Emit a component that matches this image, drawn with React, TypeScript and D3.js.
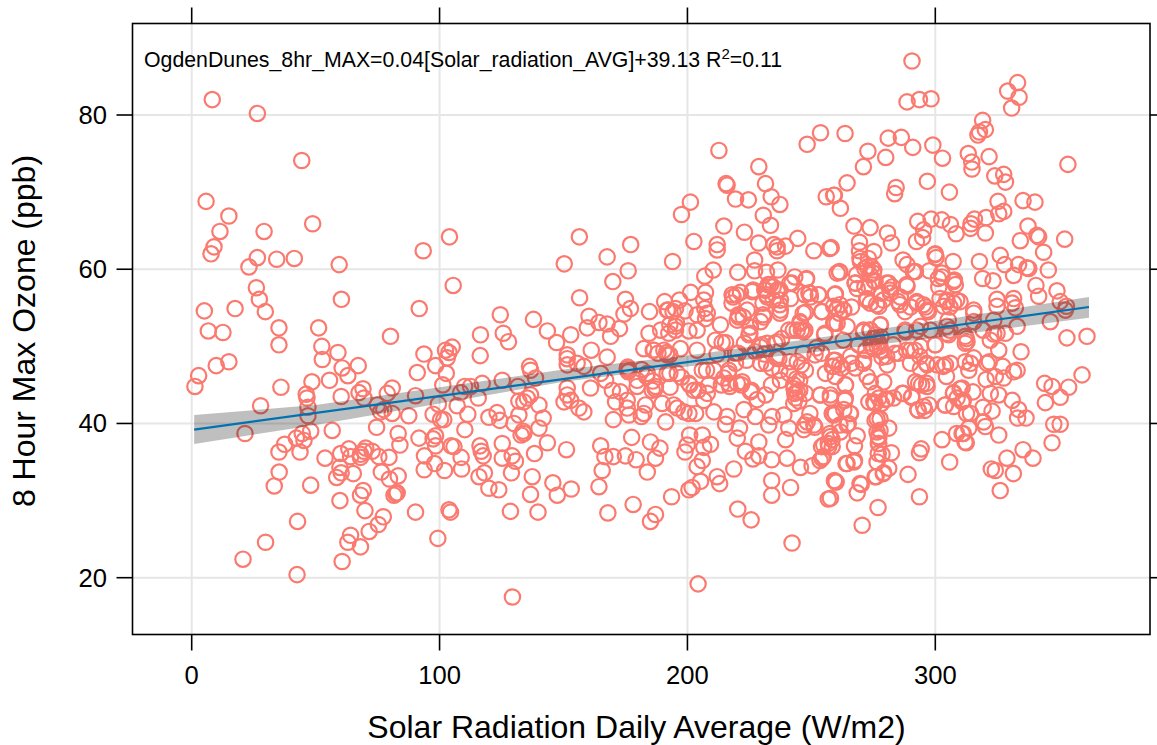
import React from "react";
import * as d3 from "d3";

// [solar radiation W/m2, 8hr max ozone ppb], grouped by radiation band
const band0to70: [number, number][] = [
[8.3,82],[26.5,80.2],[44.4,74.1],[5.8,68.8],[15,66.9],[11.4,64.9],[29.2,64.9],[48.8,65.9],[9,62.9],[7.8,62],[26.5,61.5],[23.1,60.3],[34.3,61.3],[41.4,61.4],[59.5,60.6],[60.4,56.1],[26.1,57.6],[27.3,56.1],[29.7,54.5],[17.5,54.9],[5.1,54.6],[35.2,52.4],[51.2,52.4],[6.7,52],[12.6,51.8],[35.2,50.2],[52.5,50],[59,49.2],[52.7,48.3],[67.2,47.5],[60.7,47.2],[63,46.2],[15,48],[9.9,47.5],[2.8,46.2],[1.3,44.8],[36,44.7],[48.5,45.4],[55.6,45.6],[69.1,44.5],[46.2,43.8],[46.5,43.3],[60.3,43.5],[67.5,44],[27.8,42.3],[46.9,42.1],[46.9,41],[69.5,43.3],[21.5,38.7],[56.7,39.1],[48,39],[44.6,38.7],[42.2,38.1],[45.3,37.8],[37.5,37.3],[35.2,36.3],[43.7,36.3],[53.8,35.5],[60.1,36.1],[63.4,36.7],[64.1,35.7],[68.1,36],[69.5,36.4],[70.2,36.8],[68.1,35.6],[35.3,33.7],[33.3,31.9],[48,32],[59.8,34.3],[60.3,33.6],[58.5,33],[65.2,33.5],[59.8,30],[68.1,30.7],[69.2,31.3],[69.9,28.7],[64.1,25.5],[63,24.6],[68.1,24],[60.7,22.1],[42.7,27.3],[29.8,24.6],[20.7,22.4],[42.5,20.4]
];
const band70to135: [number, number][] = [
[93.4,62.4],[104,64.2],[105.5,57.9],[91.8,54.9],[124.5,54.1],[80.2,51.3],[116.5,51.5],[125.7,51.7],[127.8,50.6],[116.4,48.8],[93.7,49],[102.4,49.5],[105.1,49.9],[103.8,49.2],[103.1,48.5],[98.4,47.5],[91,46.6],[102.7,46.5],[101.3,45],[80.9,44.6],[78.9,43.9],[90.3,43.6],[110.1,44.8],[112.5,44.8],[108.5,44],[117.2,45.2],[125.3,45.6],[131.6,44.8],[115.6,43.3],[99.5,42.5],[107.1,42.3],[74.9,42.4],[77.5,41.8],[76.2,41.5],[80.9,41.3],[87.6,41],[97.4,41.2],[100.4,40.5],[101.7,40.5],[111.4,41.2],[119.9,40.8],[123.2,41.4],[124.3,40.4],[130,40],[132,41.1],[74.6,39.5],[110.2,39.2],[83.3,38.7],[84,37.2],[91.7,38.1],[98.4,38.4],[97.4,38],[98.4,37.1],[104.7,37.1],[105.8,37],[116.3,37.1],[116.8,36.4],[117.6,35.8],[125.3,37.4],[132.9,38.5],[133.7,39],[72.8,36.4],[75.5,35.7],[79.6,35.6],[93.9,35.8],[98,34.8],[93.8,34],[102,33.9],[108.7,35.6],[108.9,34.1],[125.3,35.5],[129.3,35.8],[130.6,35.1],[129,33.6],[118.1,33.6],[115.9,33.1],[119.9,31.6],[123.9,31.4],[76.5,33.7],[79.8,32.8],[83.3,33.2],[82.9,31],[82.3,30.9],[81.6,30.7],[90.3,28.5],[103.8,28.8],[104.4,28.5],[128.6,28.6],[77.3,27.9],[75.3,26.9],[71.6,26],[99.3,25.1],[129.4,17.5],[132,42.9],[135.4,43.3]
];
const band135to200: [number, number][] = [
[156.4,64.2],[177.1,63.2],[167.6,61.6],[150.3,60.7],[194,61],[176.1,59.8],[169.9,58.4],[156.5,56.3],[175,56.1],[177,54.9],[174.4,54.2],[137.9,53.5],[160.3,53.9],[159.6,52.4],[164.3,53.1],[167.6,52.9],[172.6,52.3],[169,51.3],[143.5,52],[152.9,51.5],[147.2,50.5],[151.5,48.9],[161.2,49.5],[167.6,48.6],[190.8,55.8],[196.8,56],[184.7,54.5],[191.8,54.7],[195.2,54.9],[199,54.6],[195.2,52.6],[192.5,51.7],[189.2,52.1],[184.5,51.7],[195.2,52.1],[182.4,49.7],[186.5,49.5],[190.5,49.5],[197.2,49.7],[191.8,48.9],[188.1,49.1],[136.3,47.4],[136.7,46.9],[138.7,45.9],[151.5,48.4],[151.5,47.6],[158.2,47.4],[155.5,47.8],[165,46.5],[167,45.6],[151.5,44.6],[160.9,44.6],[151.5,43.7],[150.2,42.8],[152.9,43],[156.2,42],[158.2,41.5],[136.7,43.7],[140.1,42.4],[134,42.8],[141.8,40.7],[140.1,39.4],[134,38.7],[143.5,37.5],[138.3,36.1],[151.2,36.6],[170.1,40.5],[191.2,40.2],[177.5,38.2],[165,37.1],[166.7,35.7],[170.1,35.7],[175,35.8],[179.3,35.3],[185.1,37.6],[188.9,36.8],[187.1,35.5],[165.6,33.9],[183.8,33.7],[164.3,31.8],[137.4,33.1],[136.7,30.8],[145.7,32.3],[147.5,30.7],[153.1,31.5],[139.7,28.5],[167.9,28.4],[178.1,29.5],[187.1,28.2],[185.1,27.3],[193.6,30.5],[199.9,37.2],[199,36.3],[198.6,41.5],[195.9,42],[194.5,42.4],[189.8,42.6],[183.1,42.4],[182.4,41.3],[181.4,40.9],[176.4,41.1],[175.7,42],[171,42.8],[175.7,43],[173,44.1],[169.7,44.3],[179.7,44.8],[185.8,44.3],[187.1,44.8],[179.7,45.6],[175.7,47.1],[176.4,46.9],[183.8,46.5],[191.8,46.5],[195.9,46.5],[175.9,47.3],[176.1,46.7],[197.6,67.1],[181.5,47],[186,45.5],[193,44.7]
];
const band200to258: [number, number][] = [
[212.7,75.4],[253.7,77.7],[248.3,76.2],[228.8,73.3],[231.5,71.1],[215.6,71.1],[216,70.9],[233.8,69.4],[237.3,68.4],[219.4,69.1],[224.6,69],[230.6,67],[233.5,65.7],[256,69.4],[201.2,68.7],[214.7,65.6],[223,64.8],[202.6,63.6],[212,63.2],[212,62.5],[228.7,63.4],[234.9,63.2],[236.2,62.9],[236.2,62.4],[239.6,63],[244.5,64],[251,62.4],[257.4,62.7],[227.1,61.2],[210.4,59.9],[207,59.1],[220.3,59.6],[227.1,59.8],[231.9,59.6],[236.5,59.9],[243.3,59],[247.9,58.7],[201.3,57],[207.3,57],[206.6,56],[207,54.9],[208,54.3],[203.9,54.1],[207.3,53.6],[218,56.7],[221.4,57],[226.1,57.1],[218,55.6],[213.3,52.8],[220.7,53.8],[224.1,54.7],[231.5,57.3],[233.5,58],[236.2,57.3],[232.2,56.4],[237.5,56],[241.6,56.2],[242.2,58.2],[249,56.9],[253,56.7],[249.6,56.4],[247.6,54.4],[254.3,54.5],[237.5,54.7],[230.8,53.8],[229.5,53.2],[220.1,53.4],[225.4,52.5],[224.8,51.5],[200.6,52],[203.9,52.1],[240.9,52.1],[244.3,52.1],[246.9,51.9],[255.3,51.5],[245.6,53],[211.3,50.8],[214,50.5],[215.4,50.5],[203.9,49.5],[219.4,49.1],[232.2,50.4],[236.2,50.6],[229.5,49.9],[227.4,49.3],[200.9,38.5],[206,38.5],[209.3,37.3],[206.6,36.9],[206,35.2],[203.9,34.4],[218.7,34.1],[212,33.1],[213,32.2],[205.3,32.5],[201.9,31.7],[200.6,31.4],[220.3,28.9],[225.7,27.5],[234,32.6],[234,30.7],[241.6,31.7],[242.2,24.5],[204.3,19.2],[256.8,30.2],[240.2,35.5],[245.6,34.3],[250.3,34.5],[254.3,35.5],[234,35.3],[226.4,35.4],[228.8,35.8],[223.4,36.4],[228.8,37.6],[220.1,38.1],[221,39.4],[239.6,37.9],[215.4,39.9],[216,40.9],[210.7,41.5],[200.6,41.3],[203.3,41.3],[200.6,45.2],[202.6,44.3],[206.6,43],[208,43.9],[208.6,45],[210.7,46.9],[206,46.9],[214.7,45.9],[216.7,45.2],[220.1,45.2],[222.1,45.4],[216.7,46.9],[219.4,47.8],[229.5,47.8],[236.9,48.4],[244.3,48],[247.6,46.9],[237.5,45.6],[225.4,44.1],[231.5,43.7],[228.1,43.1],[222.8,41.8],[227.4,40.9],[232.8,39.8],[234.2,40.9],[238.9,41.1],[240.9,39.4],[246.9,39.2],[251,39.8],[248.3,40.2],[242.9,45],[244.3,44.1],[243.6,43.3],[242.9,42.6],[247.6,43.9],[253.7,43.7],[257.7,43.7],[257,37],[255,37.2],[255.7,46.5],[243,44.5],[245,42.9],[244,45.8],[246,47.6],[231,49],[234,47.2],[241,46.5],[212,49],[223,50.4],[238,51],[252,49.8]
];
const band258to300: [number, number][] = [
[290.6,87],[288.6,81.7],[293.6,82],[298.3,82.1],[263.6,77.6],[281,77],[286.3,77.1],[290.9,75.8],[299,76.1],[272.8,75.3],[280,74.5],[271,73.3],[264.4,71.2],[296.8,71.4],[284.2,70.6],[283.6,69.8],[259.3,69.6],[259,69.6],[261.7,67.9],[292.9,66.2],[298.3,66.5],[295.3,65.1],[294.9,64.1],[292.4,63.6],[267.2,65.6],[273.7,65.4],[280.7,64.7],[282.3,63.4],[269.4,63.5],[269.4,62.4],[258,62.8],[275.2,62.3],[287,61.2],[288.6,60.6],[292,59.7],[297.6,59.8],[261.5,59.6],[269.8,61],[272.5,60.3],[275.2,59.9],[260.4,59.5],[288.6,57.8],[281.2,58.2],[282.6,57.7],[281.9,56.9],[285.9,56.4],[285.7,55.4],[275.2,58.6],[273.2,57.7],[267.8,58.2],[268.5,57.5],[259.7,56.8],[272.5,56.2],[277.2,55.2],[273.8,55.6],[292.6,55.6],[296.7,54.7],[296,55.1],[290,55.1],[263.1,54.7],[259,55.2],[260.4,54.9],[261.3,54.3],[277.9,52.8],[288,51.9],[298,52.1],[260.4,53],[264.4,52.6],[271.1,52.1],[273.8,52.1],[294,52.6],[259,53],[290,47.8],[294,47.1],[296.7,47.6],[292,45.4],[293.3,45.2],[296.7,44.8],[290.6,43.5],[286.6,43.9],[283.2,43.3],[279.9,43.1],[275.2,42.8],[273.2,42.8],[277.2,43.3],[275.8,43.9],[297.4,42.4],[295.3,42.2],[292.9,41.8],[294.3,36.7],[293.6,36.2],[289,33.4],[293.6,30.5],[276.9,29.1],[270.5,26.8],[268.5,31],[270.1,32.1],[260,32.4],[257.7,30.3],[259.3,32.6],[281.2,34.2],[279.2,33.6],[276.1,33.1],[282.3,36.2],[276.5,35],[278.5,36],[267.4,35.2],[264.4,34.8],[267.4,37.1],[268.5,38.4],[261.7,38.9],[264.4,39.8],[257.7,38.3],[258.4,37],[277.2,37.4],[277.2,38.1],[276.5,38.9],[281.2,39.4],[276.5,40.6],[259.7,41.3],[265.8,41.3],[263.1,41.8],[263.7,43.3],[257.7,43.3],[258.4,41.3],[258.4,37.9],[273.8,45.4],[279.2,45.4],[263.7,45],[272.5,46.1],[267.8,47.2],[262.4,47.2],[259,47.4],[259.7,46.1],[258.4,47.4],[271.1,48.2],[280.6,47.6],[285.3,49.1],[276.5,50],[277.9,49.5],[275.2,49.7],[265.8,48.7],[259.7,48.2],[290,49.5],[294,50],[275,51],[276,51.5],[277,50.6],[274,50.4],[278,51.2],[272,49.5],[278.5,48.6],[283,50.2],[269,50.2]
];
const band300plus: [number, number][] = [
[333.2,84.2],[329.2,83.1],[333.8,82.3],[330.8,80.9],[319.1,79.3],[320.2,78.1],[317.8,77.8],[317.2,77.4],[302.9,74.4],[313.3,75],[314.7,73.9],[314.8,73],[321.7,74.6],[353.5,73.6],[324,72.1],[327.6,72.3],[328.3,71.3],[305.7,70],[325.3,68.8],[335.4,68.9],[340.2,68.7],[327.6,67.5],[325.6,67.2],[320.5,66.7],[315.8,66.5],[314.4,65.9],[314.2,65.3],[302.6,66.4],[306.1,65.8],[308.4,64.6],[320.2,64.7],[337.4,65.6],[334.3,63.7],[341,64.4],[341.7,64.2],[352.2,63.9],[343.7,62.2],[326.2,61.8],[317.8,61],[300,62],[300.3,61.5],[307.2,61],[328,60.6],[333.6,60.6],[337,60.2],[337.7,60.1],[331.6,59.2],[345.6,59.9],[319.1,58.8],[323.3,58.5],[340.6,57.9],[341.7,56.5],[349.1,57.2],[350.4,55.8],[352.9,55.2],[352.5,54.7],[346.4,53.2],[333,52.6],[324.9,56.1],[331.6,56.2],[331,55.6],[332.3,55],[324.9,55.2],[315.5,54.7],[307.7,58.6],[308.1,58],[301.4,57.7],[302.7,59],[304.7,56],[307.4,55.6],[303.4,55.2],[304.7,51.7],[312.1,51.3],[324.9,51.7],[328.3,51.7],[353.1,51.1],[361.2,51.3],[315.5,53.2],[323.6,53.4],[304.7,52.6],[315.5,54.3],[334.6,49.3],[325.6,49.5],[322.2,50.8],[312.8,50.6],[312.1,50.4],[359.2,46.3],[344.1,45.2],[347.1,44.8],[353.8,44.7],[350.4,43.4],[344.4,42.7],[333,46.9],[331.6,46.7],[327.6,45.9],[324.2,46.1],[320.5,45.7],[327.2,47.4],[321.8,48],[320.9,47.8],[314.2,47.8],[312.1,48],[315.5,48.5],[313.5,46.9],[306.1,47.8],[304.1,47.6],[300.7,47.6],[304.5,46.1],[310.8,44.6],[307.4,44],[315.2,44.1],[325.6,43.7],[322.2,43.9],[331,43],[308.8,43.3],[310.8,42.8],[304.1,42.4],[307.4,42.2],[314.2,41.3],[322.9,41.6],[319.3,42.1],[333.6,41.8],[333.2,40.7],[336.6,40.7],[347.8,39.9],[350.4,39.9],[313.5,39.4],[310.8,38.7],[319.5,40.2],[320.2,39.6],[325.6,38.5],[312.5,37.5],[302.7,37.9],[347.1,37.5],[335.4,36.6],[339.4,35.5],[328.9,35.5],[322.6,34.1],[324.2,33.9],[331.5,33.5],[326.2,31.3],[305.8,35],[300,50.2],[305.4,51.5],[319.3,52.1],[323.6,51.6]
];
const denseLeft: [number, number][] = [
[192.9,52.8],[195.6,53],[194.2,54.5],[192.2,54.7],[186.2,49.5],[191.6,49.2],[192.9,48.9],[183.5,46.1],[186.9,44.5],[192.9,46.5],[197.6,46],[201,45],[207.7,46.9],[204.3,44.3],[216.4,46.5],[213.7,45],[217.1,44.8],[221.8,45],[225.8,44.3],[220.5,49.1],[231.9,47.8],[235.9,48.5],[223.8,48.2],[229.9,50.2],[235.3,50.4],[225.2,52.5],[225.2,51.7],[222.5,53.8],[220.5,54.1],[218.4,56.4],[219.8,56.7],[226.5,57.3],[231.2,57.3],[232.6,58],[234.6,57.7],[237.3,57.3],[231.9,56.7],[230.5,55.6],[237.3,55.4],[234.6,56],[237.3,54.3],[230.5,54.1],[241.3,58.2],[246.7,54.3],[242.7,52.1],[246,52.1],[247.4,56.7],[241.3,48],[246.7,49.1],[233.9,45],[237.3,46.9],[245.3,45.6],[243.3,43.9],[245.3,44.3]
];
const denseUpperRight: [number, number][] = [
[261.3,59.7],[269.6,61.4],[273,61.4],[274.3,60.3],[271.6,60.1],[275,59.5],[273.6,59.3],[268.3,59.3],[267.6,58.2],[271.6,57.7],[275.7,58.4],[280.4,58.2],[281.7,57.3],[288.4,58],[291.1,59.7],[302.6,59.5],[301.2,58.8],[307.3,58.4],[299.9,61.9],[248.1,58.8],[249.4,56.9],[252.8,56.7],[259.5,56.7],[254.1,54.5],[261.5,55.4],[262.9,54.7],[266.2,55.1],[272.3,56],[276.3,55.4],[278.3,56.9],[279,56],[285.1,55.8],[287.8,54.5],[292.5,55.8],[295.2,55.4],[297.2,54.5],[301.9,56.2],[304.6,55.8],[305.9,55.1],[308.6,56],[310,55.8],[305.2,53.4],[277.7,52.8],[273.6,52.1],[271,51.9],[262.9,50.8],[259.5,53],[255.5,51.7],[254.1,49.1],[251.5,48.9],[258.9,48.2],[261.5,47.6],[266.2,47.8],[271,47.8],[274.3,50],[277.7,50],[280.4,48.7],[283.7,49.1],[288.4,49.5],[291.8,49.5],[299.9,50.2],[293.8,48.7],[303.2,47.4],[296.5,47.8],[305.9,52.1],[312.6,51],[292.5,52.1],[287.8,52.1],[245.4,53.2],[247.4,52.1]
];
const denseLowerRight: [number, number][] = [
[263.8,45],[253.5,43.7],[263.5,43],[265.6,41.3],[258.9,41.1],[249.4,41.3],[251.4,39.5],[247.4,39.8],[264.9,40],[261.5,39.8],[257.5,38.7],[256.8,37.4],[254.1,37],[254.8,35.7],[253.5,35.2],[264,34.8],[267.2,35],[259.5,32.5],[269.6,32.2],[275.7,33.1],[279,33.5],[277,36.1],[277,38.3],[277,37.4],[275.7,40.4],[277.7,40.6],[277.7,39.1],[275.7,42.6],[278.3,42.6],[280.4,43.2],[287.1,43.9],[290.4,43.4],[293.1,41.7],[295.8,41.7],[294.5,45],[296.5,45.2],[303.9,42.4],[307.3,43.9],[310,44.5],[311.3,43],[312.6,41.3],[311.3,38.7],[312,37.6],[308.6,38.7]
];
const allPoints = [...band0to70, ...band70to135, ...band135to200, ...band200to258, ...band258to300, ...band300plus, ...denseLeft, ...denseUpperRight, ...denseLowerRight];

const fitStart = [1, 39.2];
const fitEnd = [362, 55.1];
const ciX = [1, 50, 100, 150, 200, 250, 300, 362];
const ciUpper = [41.1, 42.4, 44.7, 47.0, 48.8, 51.0, 53.3, 56.4];
const ciLower = [37.35, 39.8, 42.6, 45.4, 47.4, 49.2, 51.1, 53.7];
const xTicks = [0, 100, 200, 300];
const yTicks = [20, 40, 60, 80];
const xTitle = "Solar Radiation Daily Average (W/m2)";
const yTitle = "8 Hour Max Ozone (ppb)";

const FONT = '"Liberation Sans", Arial, sans-serif';
const frame = { left: 132.5, right: 1150, top: 23.5, bottom: 634.5 };

export default function App() {
  const x = d3.scaleLinear().domain([0, 300]).range([191.7, 935.3]);
  const y = d3.scaleLinear().domain([20, 80]).range([577.7, 115]);
  const band = d3.area<number>()
    .x((_, i) => x(ciX[i]))
    .y0((_, i) => y(ciLower[i]))
    .y1((_, i) => y(ciUpper[i]))(ciX) as string;
  const fit = d3.line<number[]>().x(d => x(d[0])).y(d => y(d[1]))([fitStart, fitEnd]) as string;
  const tick = 16;
  return (
    <svg width={1157} height={745} style={{ position: "absolute", left: 0, top: 0, background: "#fff" }} fontFamily={FONT}>
      <g stroke="#e6e6e6" strokeWidth={2} fill="none">
        {xTicks.map(t => <line key={t} x1={x(t)} x2={x(t)} y1={frame.top} y2={frame.bottom} />)}
        {yTicks.map(t => <line key={t} x1={frame.left} x2={frame.right} y1={y(t)} y2={y(t)} />)}
      </g>
      <g fill="none" stroke="#fb7a70" strokeWidth={2.2}>
        {allPoints.map((p, i) => <circle key={i} cx={x(p[0])} cy={y(p[1])} r={7.7} />)}
      </g>
      <path d={band} fill="#000" fillOpacity={0.25} />
      <path d={fit} fill="none" stroke="#0072b2" strokeWidth={2.2} />
      <rect x={frame.left} y={frame.top} width={frame.right - frame.left} height={frame.bottom - frame.top} fill="none" stroke="#000" strokeWidth={1.6} />
      <g stroke="#000" strokeWidth={1.6}>
        {xTicks.map(t => (
          <g key={t}>
            <line x1={x(t)} x2={x(t)} y1={frame.bottom} y2={frame.bottom + tick} />
            <line x1={x(t)} x2={x(t)} y1={frame.top} y2={frame.top - tick} />
          </g>
        ))}
        {yTicks.map(t => (
          <g key={t}>
            <line x1={frame.left} x2={frame.left - tick} y1={y(t)} y2={y(t)} />
            <line x1={frame.right} x2={frame.right + tick} y1={y(t)} y2={y(t)} />
          </g>
        ))}
      </g>
      <g fontSize={25.6} fill="#000">
        {xTicks.map(t => <text key={t} x={x(t)} y={684} textAnchor="middle">{t}</text>)}
        {yTicks.map(t => <text key={t} x={107} y={y(t) + 9} textAnchor="end">{t}</text>)}
      </g>
      <text x={636.5} y={738} textAnchor="middle" fontSize={32}>{xTitle}</text>
      <text transform="translate(35,331) rotate(-90)" textAnchor="middle" fontSize={32}>{yTitle}</text>
      <text x={144} y={67} fontSize={21.3}>
        OgdenDunes_8hr_MAX=0.04[Solar_radiation_AVG]+39.13 R
        <tspan fontSize={15} dy={-8}>2</tspan>
        <tspan dy={8}>=0.11</tspan>
      </text>
    </svg>
  );
}
